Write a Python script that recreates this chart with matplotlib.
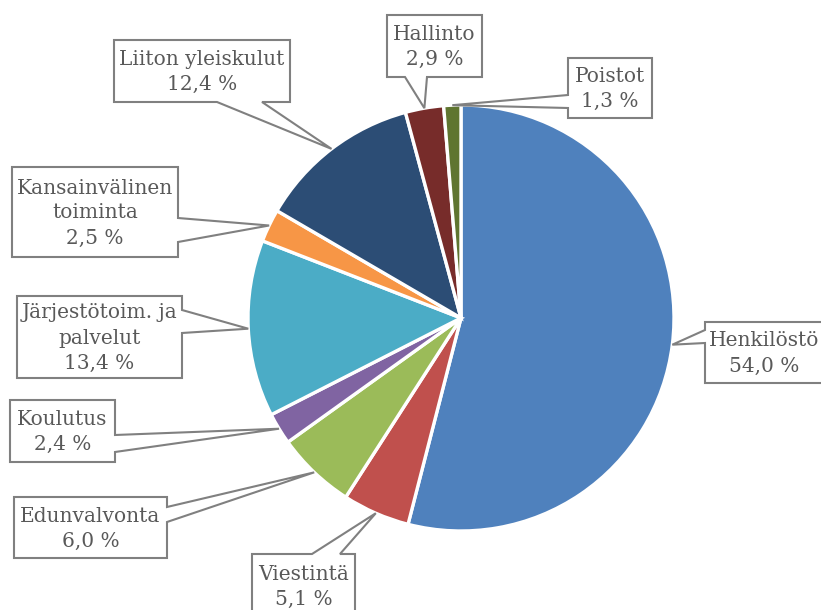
import matplotlib; matplotlib.use("Agg")
import matplotlib.pyplot as plt
from matplotlib.patches import Polygon
import numpy as np

# data (clockwise from 12 o'clock)
labels = ["Henkilöstö", "Viestintä", "Edunvalvonta", "Koulutus",
          "Järjestötoim. ja\npalvelut", "Kansainvälinen\ntoiminta",
          "Liiton yleiskulut", "Hallinto", "Poistot"]
shares = [54.0, 5.1, 6.0, 2.4, 13.4, 2.5, 12.4, 2.9, 1.3]
colors = ["#4F81BD", "#C0504D", "#9BBB59", "#8064A2", "#4BACC6",
          "#F79646", "#2C4D75", "#772C2A", "#5F7530"]

W, H = 821, 610
# callout boxes in pixel coords (left, top, right, bottom), pointer side, pointer base
boxes = [
    ((705, 322, 823, 383), "left",   (330, 343)),
    ((252, 554, 355, 618), "top",    (312, 340)),
    ((14, 497, 167, 558),  "right",  (507, 522)),
    ((10, 400, 115, 462),  "right",  (435, 452)),
    ((17, 296, 182, 378),  "right",  (310, 333)),
    ((12, 167, 178, 257),  "right",  (218, 242)),
    ((114, 40, 290, 102),  "bottom", (217, 262)),
    ((387, 15, 482, 77),   "bottom", (405, 427)),
    ((568, 58, 652, 118),  "left",   (95, 108)),
]

cx, cy, r = 461, H - 318, 213

fig = plt.figure(figsize=(W / 100, H / 100), dpi=100)
ax = fig.add_axes([0, 0, 1, 1])
wedges, _ = ax.pie(shares, colors=colors, startangle=90, counterclock=False,
                   center=(cx, cy), radius=r,
                   wedgeprops=dict(edgecolor="white", linewidth=2.4))
ax.set_xlim(0, W); ax.set_ylim(0, H); ax.set_aspect("equal"); ax.axis("off")

def fy(y): return H - y

for w, lab, v, (bx, side, base) in zip(wedges, labels, shares, boxes):
    mid = np.deg2rad((w.theta1 + w.theta2) / 2)
    tip = (cx + r * np.cos(mid), cy + r * np.sin(mid))
    x0, y0, x1, y1 = bx
    if side == "top":
        pts = [(x0, fy(y0)), (base[0], fy(y0)), tip, (base[1], fy(y0)),
               (x1, fy(y0)), (x1, fy(y1)), (x0, fy(y1))]
    elif side == "right":
        pts = [(x0, fy(y0)), (x1, fy(y0)), (x1, fy(base[0])), tip,
               (x1, fy(base[1])), (x1, fy(y1)), (x0, fy(y1))]
    elif side == "bottom":
        pts = [(x0, fy(y0)), (x1, fy(y0)), (x1, fy(y1)), (base[1], fy(y1)),
               tip, (base[0], fy(y1)), (x0, fy(y1))]
    else:
        pts = [(x0, fy(y0)), (x1, fy(y0)), (x1, fy(y1)), (x0, fy(y1)),
               (x0, fy(base[1])), tip, (x0, fy(base[0]))]
    ax.add_patch(Polygon(pts, closed=True, facecolor="white",
                         edgecolor="#808080", lw=1.5, zorder=3,
                         joinstyle="miter"))
    txt = lab + "\n" + f"{v:.1f}".replace(".", ",") + " %"
    ax.text((x0 + x1) / 2, fy((y0 + y1) / 2 + 1), txt, ha="center", va="center",
            fontsize=14.5, family="DejaVu Serif", color="#595959",
            linespacing=1.4, zorder=4)

fig.savefig("out.png", dpi=100, facecolor="white")
